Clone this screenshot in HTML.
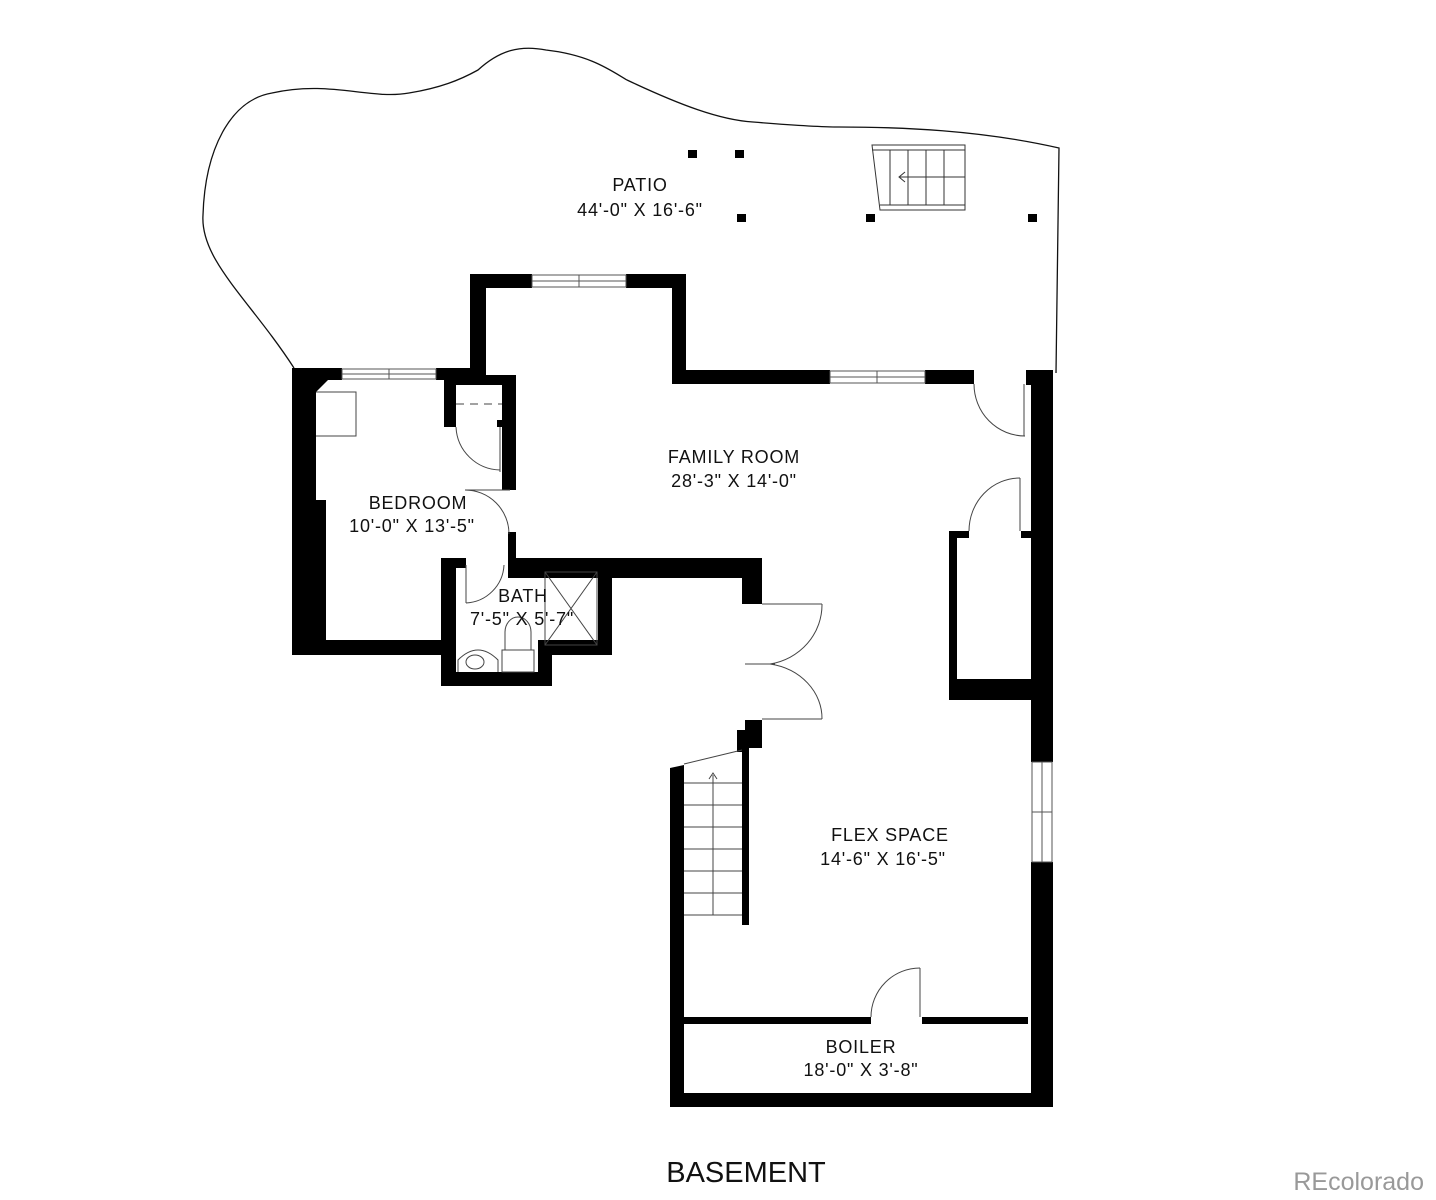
<!DOCTYPE html>
<html><head><meta charset="utf-8"><style>
html,body{margin:0;padding:0;background:#fff;}
svg{display:block}
text{font-family:"Liberation Sans",sans-serif;fill:#111}
</style></head><body>
<svg width="1436" height="1200" viewBox="0 0 1436 1200" xmlns="http://www.w3.org/2000/svg">
<path d="M294,368 C250,300 200,260 203,215 C205,150 230,100 272,93 C330,80 370,100 409,93 C440,88 460,80 478,70 C500,50 520,45 546,50 C590,55 610,70 627,80 C680,105 720,120 753,122 C790,125 820,127 839,127 C900,127 980,130 1059,148 L1056,373" fill="none" stroke="#111" stroke-width="1.3"/>
<g fill="#000">
<rect x="688" y="150" width="9" height="8"/><rect x="735" y="150" width="9" height="8"/>
<rect x="737" y="214" width="9" height="8"/><rect x="866" y="214" width="9" height="8"/><rect x="1028" y="214" width="9" height="8"/>
</g>
<g fill="none" stroke="#333" stroke-width="1">
<path d="M872,145 L965,145 L965,210 L880,210 Z"/>
<line x1="872" y1="150" x2="965" y2="150"/><line x1="880" y1="205" x2="965" y2="205"/>
<line x1="890" y1="150" x2="890" y2="205"/><line x1="908" y1="150" x2="908" y2="205"/><line x1="926" y1="150" x2="926" y2="205"/><line x1="944" y1="150" x2="944" y2="205"/>
<line x1="900" y1="177" x2="965" y2="177"/>
<path d="M905,172 L899,177 L905,182"/>
</g>
<g fill="#000">
<rect x="470" y="274" width="62" height="14"/><rect x="626" y="274" width="60" height="14"/>
<rect x="470" y="274" width="16" height="110"/>
<rect x="672" y="274" width="14" height="110"/>
<rect x="672" y="370" width="158" height="14"/><rect x="925" y="370" width="49" height="14"/>
<rect x="1026" y="370" width="27" height="15"/>
<rect x="1031" y="370" width="22" height="392"/><rect x="1031" y="862" width="22" height="245"/>
<rect x="949" y="531" width="8" height="167"/><rect x="949" y="531" width="20" height="7"/><rect x="1021" y="531" width="10" height="7"/>
<rect x="949" y="679" width="82" height="21"/>
<rect x="292" y="368" width="50" height="12"/><rect x="436" y="368" width="50" height="12"/>
<path d="M292,368 L330,368 L330,378 L316,392 L316,500 L326,500 L326,655 L292,655 Z"/>
<rect x="292" y="640" width="164" height="15"/>
<rect x="444" y="375" width="72" height="10"/><rect x="444" y="375" width="12" height="52"/><rect x="444" y="420" width="10" height="7"/>
<rect x="502" y="375" width="14" height="115"/><rect x="497" y="420" width="19" height="7"/>
<rect x="508" y="532" width="8" height="30"/>
<rect x="441" y="558" width="15" height="128"/><rect x="441" y="558" width="25" height="10"/>
<rect x="441" y="672" width="111" height="14"/><rect x="538" y="640" width="14" height="46"/>
<rect x="538" y="640" width="74" height="15"/><rect x="598" y="558" width="14" height="97"/>
<rect x="508" y="558" width="254" height="20"/><rect x="742" y="558" width="20" height="46"/>
<rect x="745" y="720" width="17" height="28"/><rect x="737" y="730" width="12" height="22"/>
<rect x="742" y="745" width="7" height="180"/>
<path d="M670,768 L684,765 L684,1107 L670,1107 Z"/>
<rect x="670" y="1093" width="383" height="14"/>
<rect x="684" y="1017" width="187" height="7"/><rect x="922" y="1017" width="106" height="7"/>
</g>
<g fill="#fff" stroke="#555" stroke-width="1">
<rect x="532" y="275" width="94" height="12"/><line x1="532" y1="281" x2="626" y2="281"/><line x1="579" y1="275" x2="579" y2="287"/>
<rect x="830" y="371" width="95" height="12"/><line x1="830" y1="377" x2="925" y2="377"/><line x1="877" y1="371" x2="877" y2="383"/>
<rect x="342" y="369" width="94" height="10"/><line x1="342" y1="374" x2="436" y2="374"/><line x1="389" y1="369" x2="389" y2="379"/>
<rect x="1032" y="762" width="20" height="100"/><line x1="1042" y1="762" x2="1042" y2="862"/><line x1="1032" y1="812" x2="1052" y2="812"/>
</g>
<g fill="none" stroke="#444" stroke-width="1">
<path d="M974,384 A51,52 0 0 0 1025,436"/><line x1="1024" y1="384" x2="1024" y2="436"/>
<path d="M969,531 A51,53 0 0 1 1020,478"/><line x1="1020" y1="478" x2="1020" y2="531"/>
<path d="M456,427 A45,45 0 0 0 500,470"/><line x1="500" y1="427" x2="500" y2="472"/>
<path d="M465,490 L510,490"/><path d="M465,490 A44,44 0 0 1 509,534"/>
<path d="M466,603 A40,40 0 0 0 504,565"/><line x1="466" y1="565" x2="466" y2="603"/>
<path d="M316,392 L356,392 L356,436 L316,436"/>
<line x1="456" y1="404" x2="502" y2="404" stroke-dasharray="8,6"/>
<rect x="545" y="572" width="52" height="73"/><line x1="545" y1="572" x2="597" y2="645"/><line x1="597" y1="572" x2="545" y2="645"/>
<path d="M505,650 L505,632 A13,15 0 0 1 531,632 L531,650 Z"/><rect x="502" y="650" width="32" height="22"/>
<path d="M458,672 L458,660 Q478,640 498,660 L498,672"/><ellipse cx="475" cy="662" rx="9" ry="7"/>
<line x1="762" y1="604" x2="822" y2="604"/><path d="M822,604 A62,60 0 0 1 770,664"/>
<line x1="745" y1="664" x2="775" y2="664"/>
<line x1="762" y1="719" x2="822" y2="719"/><path d="M822,719 A62,55 0 0 0 770,664"/>
<line x1="684" y1="764" x2="742" y2="750"/>
<line x1="684" y1="783" x2="742" y2="783"/><line x1="684" y1="805" x2="742" y2="805"/><line x1="684" y1="827" x2="742" y2="827"/><line x1="684" y1="849" x2="742" y2="849"/><line x1="684" y1="871" x2="742" y2="871"/><line x1="684" y1="893" x2="742" y2="893"/><line x1="684" y1="915" x2="742" y2="915"/>
<line x1="713" y1="775" x2="713" y2="915"/><path d="M709,779 L713,773 L717,779"/>
<path d="M871,1017 A49,49 0 0 1 920,968"/><line x1="920" y1="968" x2="920" y2="1017"/>
</g>
<g font-size="18" text-anchor="middle" letter-spacing="0.8">
<text x="640" y="191">PATIO</text><text x="640" y="216">44'-0" X 16'-6"</text>
<text x="734" y="463">FAMILY ROOM</text><text x="734" y="487">28'-3" X 14'-0"</text>
<text x="418" y="509">BEDROOM</text><text x="412" y="532">10'-0" X 13'-5"</text>
<text x="523" y="602">BATH</text><text x="522" y="625">7'-5" X 5'-7"</text>
<text x="890" y="841">FLEX SPACE</text><text x="883" y="865">14'-6" X 16'-5"</text>
<text x="861" y="1053">BOILER</text><text x="861" y="1076">18'-0" X 3'-8"</text>
</g>
<text x="746" y="1182" font-size="29" text-anchor="middle">BASEMENT</text>
<text x="1424" y="1190" font-size="25" text-anchor="end" style="fill:#999">REcolorado</text>
</svg>
</body></html>
